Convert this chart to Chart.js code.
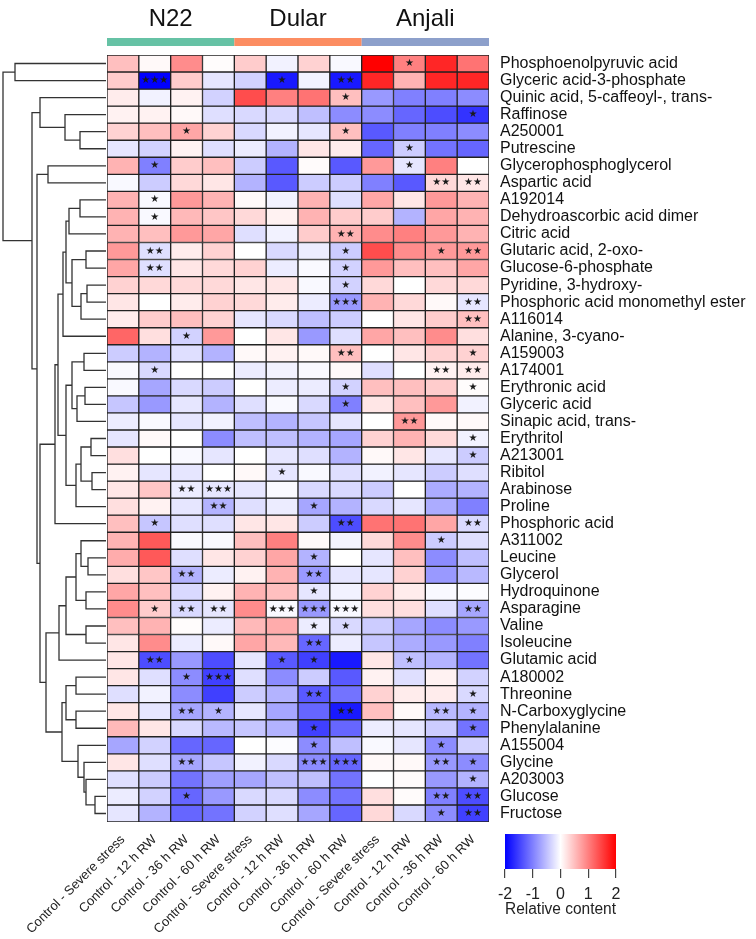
<!doctype html>
<html lang="en">
<head>
<meta charset="UTF-8">
<title>Relative metabolite content heatmap</title>
<script src="https://cdn.jsdelivr.net/npm/chart.js"></script>
<style>
  html, body { margin: 0; padding: 0; background: #fff; }
  #wrap { position: relative; width: 756px; height: 939px; overflow: hidden; }
  canvas { position: absolute; }
</style>
</head>
<body>
<div id="wrap">
  <canvas id="heat" width="756" height="939" style="left:0;top:0;width:756px;height:939px"></canvas>
  <canvas id="dendro" width="107" height="939" style="left:0;top:0;width:107px;height:939px"></canvas>
  <canvas id="scale" width="170" height="100" style="left:480px;top:825px;width:170px;height:100px"></canvas>
</div>
<script>
const FONT = "'Liberation Sans', Arial, sans-serif";

const groups = ['N22', 'Dular', 'Anjali'];
const groupColors = ['#66C2A5', '#FC8D62', '#8DA0CB'];
const contrasts = ['Control - Severe stress', 'Control - 12 h RW', 'Control - 36 h RW', 'Control - 60 h RW'];
const columns = groups.flatMap(() => contrasts);

const rowNames = [
  'Phosphoenolpyruvic acid', 'Glyceric acid-3-phosphate', 'Quinic acid, 5-caffeoyl-, trans-', 'Raffinose',
  'A250001', 'Putrescine', 'Glycerophosphoglycerol', 'Aspartic acid', 'A192014', 'Dehydroascorbic acid dimer',
  'Citric acid', 'Glutaric acid, 2-oxo-', 'Glucose-6-phosphate', 'Pyridine, 3-hydroxy-',
  'Phosphoric acid monomethyl ester', 'A116014', 'Alanine, 3-cyano-', 'A159003', 'A174001', 'Erythronic acid',
  'Glyceric acid', 'Sinapic acid, trans-', 'Erythritol', 'A213001', 'Ribitol', 'Arabinose', 'Proline',
  'Phosphoric acid', 'A311002', 'Leucine', 'Glycerol', 'Hydroquinone', 'Asparagine', 'Valine', 'Isoleucine',
  'Glutamic acid', 'A180002', 'Threonine', 'N-Carboxyglycine', 'Phenylalanine', 'A155004', 'Glycine',
  'A203003', 'Glucose', 'Fructose'
];

// relative content, one row per metabolite, columns as above
const values = [
  [0.5, 0.05, 0.9, 0.02, 0.4, -0.1, 0.35, -0.05, 2.0, 1.0, 1.7, 1.1],
  [0.4, -2.0, 0.4, -0.2, -0.35, -1.8, -0.1, -1.8, 1.7, 0.6, 1.7, 1.7],
  [0.15, -0.1, 0.1, -0.35, 1.4, 1.0, 1.1, 0.5, -0.8, -1.0, -1.0, -0.9],
  [0.1, 0.1, 0.05, -0.25, -0.3, -0.3, -0.5, -0.9, -0.9, -1.2, -1.4, -1.6],
  [0.35, 0.5, 0.7, 0.35, -0.3, -0.1, -0.2, 0.5, -1.3, -1.0, -1.0, -0.9],
  [-0.2, -0.35, 0.1, -0.25, -0.15, -0.6, 0.2, 0.15, -1.2, -0.4, -1.1, -1.2],
  [0.6, -1.0, 0.4, 0.5, -0.4, -1.3, 0.03, -1.3, 0.8, -0.2, 1.0, 0.0],
  [-0.05, -0.4, 0.3, 0.2, -0.6, -1.3, -0.4, -0.4, -1.0, -1.3, 0.3, 0.2],
  [0.6, -0.05, 0.8, 0.6, 0.05, -0.1, 0.6, -0.25, 0.7, 0.2, 0.8, 0.6],
  [0.6, -0.05, 0.55, 0.45, 0.3, 0.1, 0.6, 0.4, 0.4, -0.6, 0.7, 0.6],
  [0.6, 0.5, 0.8, 0.7, -0.25, -0.1, 0.4, 0.6, 0.9, 1.0, 0.8, 0.6],
  [0.8, -0.25, 0.15, 0.35, 0.0, -0.3, -0.15, -0.4, 1.4, 0.9, 0.8, 0.8],
  [0.7, -0.25, 0.2, 0.3, 0.35, -0.15, -0.05, -0.35, 0.8, 0.5, 0.5, 0.7],
  [0.35, 0.3, 0.3, 0.3, 0.2, 0.2, -0.05, -0.35, 0.3, 0.0, 0.3, 0.3],
  [0.2, 0.0, 0.15, 0.35, 0.3, 0.15, -0.15, -0.8, 0.6, 0.3, 0.05, -0.2],
  [0.15, 0.4, 0.5, 0.35, -0.2, -0.3, -0.5, -0.4, 0.0, 0.2, 0.4, 0.5],
  [1.2, 0.25, -0.35, 0.8, 0.0, 0.2, -0.8, -0.25, 0.7, 0.5, 0.9, 0.25],
  [-0.4, -0.6, -0.25, -0.6, 0.05, 0.1, 0.05, 0.5, 0.0, 0.2, 0.35, 0.35],
  [-0.05, -0.3, 0.0, 0.0, -0.15, -0.1, -0.05, 0.05, -0.25, 0.0, 0.1, 0.15],
  [-0.05, -0.7, -0.3, -0.4, 0.0, -0.15, -0.15, -0.35, 0.5, 0.5, 0.4, 0.02],
  [-0.45, -0.8, -0.2, -0.6, -0.25, -0.05, -0.3, -1.0, 0.2, 0.5, 0.8, -0.1],
  [-0.15, -0.05, -0.2, -0.1, -0.5, -0.6, -0.45, -0.2, 0.0, 0.8, 0.05, 0.05],
  [-0.2, 0.05, 0.0, -0.9, -0.5, -0.5, -0.6, -0.7, 0.35, 0.6, 0.3, -0.1],
  [0.25, 0.0, -0.05, -0.2, 0.0, -0.2, -0.25, -0.6, 0.05, 0.2, -0.2, -0.4],
  [0.1, -0.2, -0.2, 0.0, 0.05, -0.2, -0.05, -0.25, -0.1, -0.2, -0.4, -0.25],
  [0.2, 0.45, -0.15, -0.2, -0.2, -0.05, -0.3, -0.3, -0.4, 0.0, -0.65, -0.6],
  [0.25, 0.1, -0.2, -0.6, -0.25, -0.15, -0.7, -0.6, -0.3, -0.2, -0.65, -1.0],
  [0.5, -0.45, -0.25, -0.25, 0.2, 0.2, -0.4, -1.4, 1.1, 1.1, 0.7, -0.3],
  [0.6, 1.3, -0.05, -0.05, 0.5, 1.0, 0.05, -0.1, 0.3, 0.9, -0.4, -0.25],
  [0.65, 1.3, -0.25, 0.2, 0.35, 0.7, -0.6, 0.0, -0.2, 0.5, -0.9, -0.5],
  [0.25, 0.45, -0.6, -0.15, 0.1, 0.6, -0.8, -0.2, -0.2, 0.35, -0.8, -0.55],
  [0.7, 0.5, -0.3, 0.1, 0.6, 0.5, -0.2, -0.1, 0.35, 0.15, -0.05, -0.02],
  [0.9, 0.4, -0.3, -0.2, 0.9, -0.05, -0.8, -0.05, 0.25, 0.25, -0.25, -0.7],
  [0.5, 0.6, 0.02, -0.15, 0.55, 0.65, -0.15, -0.3, -0.4, -0.7, -0.9, -0.8],
  [0.2, 0.9, -0.15, 0.05, 0.7, 0.55, -1.2, -0.15, -0.45, -0.65, -0.8, -1.0],
  [0.2, -1.4, -0.8, -1.4, -0.2, -1.3, -1.5, -1.8, 0.2, -0.5, -0.6, -1.1],
  [0.2, -0.25, -0.9, -1.5, -0.25, -0.9, -0.4, -1.3, 0.1, -0.25, 0.1, -0.35],
  [-0.25, -0.1, -0.9, -1.5, -0.4, -0.6, -1.3, -1.1, 0.35, 0.15, 0.15, -0.3],
  [0.2, -0.2, -0.7, -0.6, -0.2, -0.7, -1.2, -1.8, 0.5, 0.05, -0.55, -0.6],
  [0.55, 0.2, -0.3, -0.55, -0.45, -0.6, -1.5, -1.2, -0.15, -0.2, -0.4, -1.1],
  [-0.7, -0.35, -1.2, -1.2, 0.0, -0.02, -0.9, -0.5, -0.05, -0.2, -0.9, -0.35],
  [0.2, -0.25, -0.7, -0.45, -0.1, -0.3, -0.9, -1.2, 0.05, 0.05, -0.8, -0.9],
  [-0.25, -0.4, -1.1, -0.75, -0.7, -0.5, -0.5, -1.1, 0.0, 0.03, -0.8, -0.6],
  [-0.15, -0.35, -1.2, -0.8, -0.3, -0.3, -0.9, -1.1, 0.25, 0.03, -1.0, -1.4],
  [-0.2, -0.6, -1.2, -1.1, -0.35, -0.25, -0.7, -1.2, 0.3, -0.3, -0.9, -1.5]
];

// number of significance stars per cell (one digit per column)
const stars = [
  '000000000100', '030001020000', '000000010000', '000000000001', '001000010000',
  '000000000100', '010000000100', '000000000022', '010000000000', '010000000000',
  '000000020000', '020000010012', '020000010000', '000000010000', '000000030002',
  '000000000002', '001000000000', '000000020001', '010000000022', '000000010001',
  '000000010000', '000000000200', '000000000001', '000000000001', '000001000000',
  '002300000000', '000200100000', '010000020002', '000000000010', '000000100000',
  '002000200000', '000000100000', '012203330002', '000000110000', '000000200000',
  '020001100100', '001300000000', '000000200001', '002100020021', '000000100001',
  '000000100010', '002000330021', '000000000001', '001000000022', '000000000012'
];

// row dendrogram: [height, left, right], leaves are row indices
const tree = [103,
  [91, 0, 1],
  [74,
    [66, 2, [41, 3, [26, 4, 5]]],
    [69,
      [58, 6, 7],
      [66,
        [51,
          [48,
            [43, [40, [37, [26, 8, 9], 10], [34, [20, 11, 12], [25, [19, 13, 14], 15]]], 16],
            [40, [34, [22, 17, 18], [29, [21, 19, 20], 21]], [30, [25, [15, 22, 23], [14, 24, 25]], 26]]],
          27],
        [60,
          [47, [40, [30, [25, 28, [18, 29, 30]], [20, 31, 32]], [20, 33, 34]], 35],
          [44, [40, [30, 36, 37], [30, 38, 39]], [28, 40, [22, 41, [20, 42, [11, 43, 44]]]]]]]]]];

const N = rowNames.length;
const rowY = i => N - 1 - i;

function colorFor(v) {
  const t = Math.max(-1, Math.min(1, v / 2));
  if (t < 0) {
    const c = Math.round(255 * (1 + t));
    return `rgb(${c},${c},255)`;
  }
  const c = Math.round(255 * (1 - t));
  return `rgb(255,${c},${c})`;
}

// ---- heatmap ----
const heatDatasets = rowNames.map((name, i) => ({
  label: name,
  data: columns.map(() => [rowY(i), rowY(i) + 1]),
  backgroundColor: values[i].map(colorFor),
  borderColor: '#222',
  borderWidth: 1,
  borderSkipped: false,
  grouped: false,
  barPercentage: 1,
  categoryPercentage: 1
}));

const headerAndStars = {
  id: 'headerAndStars',
  afterDatasetsDraw(chart) {
    const { ctx, scales: { x, y }, chartArea } = chart;
    const half = chartArea.width / columns.length / 2;
    ctx.save();
    // group bars and titles
    groups.forEach((g, k) => {
      const left = x.getPixelForValue(k * 4) - half;
      const right = x.getPixelForValue(k * 4 + 3) + half;
      ctx.fillStyle = groupColors[k];
      ctx.fillRect(left, 38, right - left, 8);
      ctx.fillStyle = '#111';
      ctx.font = `24px ${FONT}`;
      ctx.textAlign = 'center';
      ctx.textBaseline = 'middle';
      ctx.fillText(g, (left + right) / 2, 19);
    });
    // stars
    ctx.font = "10px 'DejaVu Sans', sans-serif";
    ctx.fillStyle = '#1a1a1a';
    stars.forEach((row, i) => {
      row.split('').forEach((s, j) => {
        const n = +s;
        if (!n) return;
        ctx.fillText('\u2605'.repeat(n), x.getPixelForValue(j), y.getPixelForValue(rowY(i) + 0.5));
      });
    });
    ctx.restore();
  }
};

new Chart(document.getElementById('heat'), {
  type: 'bar',
  data: { labels: columns, datasets: heatDatasets },
  options: {
    responsive: false,
    animation: false,
    layout: { padding: { left: 107, top: 55, right: 0, bottom: 0 } },
    plugins: { legend: { display: false }, tooltip: { enabled: false } },
    scales: {
      x: {
        type: 'category',
        grid: { display: false },
        border: { display: false },
        ticks: {
          autoSkip: false, minRotation: 45, maxRotation: 45, padding: 2,
          color: '#222', font: { family: FONT, size: 13 }
        },
        afterFit: s => { s.height = 117; }
      },
      y: {
        type: 'linear', position: 'right', min: 0, max: N,
        grid: { display: false, drawTicks: false },
        border: { display: false },
        afterBuildTicks: s => { s.ticks = rowNames.map((_, i) => ({ value: rowY(i) + 0.5 })); },
        ticks: {
          autoSkip: false, padding: 11, color: '#111',
          font: { family: FONT, size: 16 },
          callback: v => rowNames[Math.round(N - 0.5 - v)]
        },
        afterFit: s => { s.width = 267; }
      }
    }
  },
  plugins: [headerAndStars]
});

// ---- dendrogram ----
const dendroSets = [];
function walk(node) {
  if (typeof node === 'number') return { h: 0, y: rowY(node) + 0.5 };
  const [h, l, r] = node;
  const a = walk(l), b = walk(r);
  dendroSets.push({
    data: [{ x: a.h, y: a.y }, { x: h, y: a.y }, { x: h, y: b.y }, { x: b.h, y: b.y }],
    showLine: true, borderColor: '#333', borderWidth: 1.3, pointRadius: 0, fill: false
  });
  return { h, y: (a.y + b.y) / 2 };
}
walk(tree);

new Chart(document.getElementById('dendro'), {
  type: 'scatter',
  data: { datasets: dendroSets },
  options: {
    responsive: false,
    animation: false,
    layout: { padding: { left: 0, right: 1, top: 55, bottom: 117 } },
    plugins: { legend: { display: false }, tooltip: { enabled: false } },
    scales: {
      x: { type: 'linear', min: 0, max: 106, reverse: true, display: false },
      y: { type: 'linear', min: 0, max: N, display: false }
    }
  }
});

// ---- colour key ----
const keyTicks = [-2, -1, 0, 1, 2];
new Chart(document.getElementById('scale'), {
  type: 'bar',
  data: {
    labels: ['key'],
    datasets: [{
      data: [[keyTicks[0], keyTicks[keyTicks.length - 1]]],
      backgroundColor: c => {
        const area = c.chart.chartArea;
        if (!area) return '#fff';
        const g = c.chart.ctx.createLinearGradient(area.left, 0, area.right, 0);
        g.addColorStop(0, colorFor(-2));
        g.addColorStop(0.5, colorFor(0));
        g.addColorStop(1, colorFor(2));
        return g;
      },
      borderWidth: 0,
      barPercentage: 1,
      categoryPercentage: 1
    }]
  },
  options: {
    indexAxis: 'y',
    responsive: false,
    animation: false,
    layout: { padding: { left: 25, right: 34, top: 9, bottom: 0 } },
    plugins: { legend: { display: false }, tooltip: { enabled: false } },
    scales: {
      x: {
        type: 'linear', min: -2, max: 2,
        afterBuildTicks: s => { s.ticks = keyTicks.map(v => ({ value: v })); },
        grid: { drawOnChartArea: false, tickLength: 9, color: '#444', lineWidth: 1.2 },
        border: { display: false },
        ticks: { color: '#222', padding: 7, font: { family: FONT, size: 16 } },
        title: { display: true, text: 'Relative content', color: '#222', padding: { top: 0, bottom: 6 }, font: { family: FONT, size: 16 } },
        afterFit: s => { s.height = 56; }
      },
      y: { display: false }
    }
  }
});
</script>
</body>
</html>
